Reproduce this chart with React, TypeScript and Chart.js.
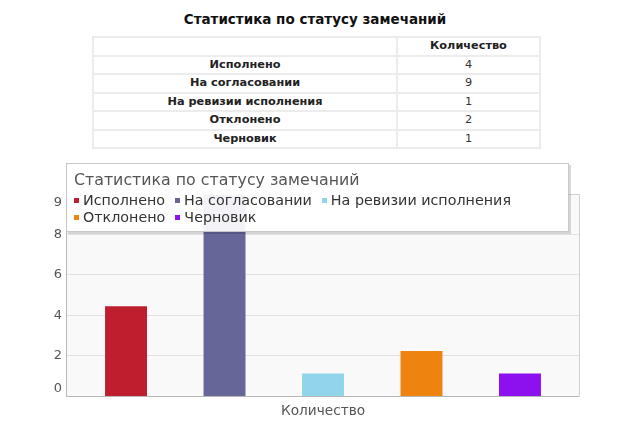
import React, { useEffect, useRef } from 'react';
import { Chart, registerables } from 'chart.js';

Chart.register(...registerables);

// ---- data ----
const chartTitle = 'Статистика по статусу замечаний';
const categories = ['Количество'];
const statuses = ['Исполнено', 'На согласовании', 'На ревизии исполнения', 'Отклонено', 'Черновик'];
const counts = [4, 9, 1, 2, 1];
const colors = ['#be1e2d', '#666699', '#92d5ea', '#ee8310', '#8d10ee'];
const yTickLabels = [0, 2, 4, 6, 8, 9];
const yMax = 9;
const gridMax = 10;

const plotFrame = {
  id: 'plotFrame',
  beforeDraw(chart: any) {
    const { ctx, chartArea: a } = chart;
    ctx.save();
    ctx.fillStyle = '#f9f9f9';
    ctx.fillRect(a.left, a.top, a.right - a.left, a.bottom - a.top);
    ctx.restore();
  },
  afterDatasetsDraw(chart: any) {
    const { ctx, chartArea: a } = chart;
    ctx.save();
    ctx.lineWidth = 1;
    ctx.strokeStyle = '#d0d0d0';
    ctx.beginPath();
    ctx.moveTo(a.left + 0.5, a.top + 0.5);
    ctx.lineTo(a.right - 0.5, a.top + 0.5);
    ctx.lineTo(a.right - 0.5, a.bottom - 0.5);
    ctx.stroke();
    ctx.strokeStyle = '#b8b8b8';
    ctx.beginPath();
    ctx.moveTo(a.left + 0.5, a.top + 0.5);
    ctx.lineTo(a.left + 0.5, a.bottom + 0.5);
    ctx.lineTo(a.right - 0.5, a.bottom + 0.5);
    ctx.stroke();
    ctx.restore();
  },
};

const chartFont = '"DejaVu Sans", Verdana, sans-serif';

export default function App() {
  const canvasRef = useRef<HTMLCanvasElement | null>(null);

  useEffect(() => {
    if (!canvasRef.current) return;
    const last = yTickLabels.length - 1;
    const chart = new Chart(canvasRef.current, {
      type: 'bar',
      data: {
        labels: categories,
        datasets: statuses.map((s, i) => ({
          label: s,
          data: [counts[i]],
          backgroundColor: colors[i],
          borderWidth: 0,
        })),
      },
      options: {
        animation: false,
        responsive: false,
        maintainAspectRatio: false,
        layout: { padding: { left: 0, right: 16, top: 34, bottom: 0 } },
        datasets: { bar: { categoryPercentage: 0.958, barPercentage: 0.426 } },
        plugins: {
          legend: { display: false },
          tooltip: { enabled: false },
          title: { display: false },
        },
        scales: {
          x: {
            grid: { display: false, drawTicks: false },
            border: { display: false },
            ticks: {
              padding: 7,
              color: '#555',
              font: { family: chartFont, size: 13.7 },
            },
            afterFit: (s: any) => {
              s.height = 34;
            },
          },
          y: {
            min: 0,
            max: yMax,
            border: { display: false },
            grid: {
              drawTicks: false,
              color: (ctx: any) =>
                ctx.index === 0 || ctx.index === last ? 'rgba(0,0,0,0)' : '#e2e2e2',
              lineWidth: 1,
            },
            afterBuildTicks: (s: any) => {
              s.ticks = yTickLabels.map((l, i) => {
                let v = (l * yMax) / gridMax;
                if (i === 0) v = 0.35;
                if (i === last) v += 0.5;
                return { value: v };
              });
            },
            ticks: {
              autoSkip: false,
              padding: 4,
              color: '#555',
              font: { family: chartFont, size: 13 },
              callback: (_v: any, i: number) => String(yTickLabels[i]),
            },
            afterFit: (s: any) => {
              s.width = 30;
            },
          },
        },
      },
      plugins: [plotFrame],
    });
    return () => chart.destroy();
  }, []);

  const cell: React.CSSProperties = {
    border: '2px solid #ececec',
    padding: 0,
    height: 16.5,
    lineHeight: '16.5px',
    textAlign: 'center',
  };

  return (
    <div style={{ position: 'relative', width: 604, height: 417 }}>
      <div
        style={{
          position: 'absolute',
          left: 107,
          width: 400,
          top: 3,
          textAlign: 'center',
          font: 'bold 13.5px "DejaVu Sans", sans-serif',
          lineHeight: '16px',
          color: '#111',
        }}
      >
        {chartTitle}
      </div>
      <table
        style={{
          position: 'absolute',
          left: 84,
          top: 28,
          width: 449,
          borderCollapse: 'collapse',
          font: '11.3px "DejaVu Sans", sans-serif',
          color: '#333',
        }}
      >
        <thead>
          <tr>
            <td style={{ ...cell, width: 302 }}></td>
            <th style={{ ...cell, fontWeight: 'bold', color: '#222' }}>{categories[0]}</th>
          </tr>
        </thead>
        <tbody>
          {statuses.map((s, i) => (
            <tr key={s}>
              <th style={{ ...cell, fontWeight: 'bold', color: '#222' }}>{s}</th>
              <td style={cell}>{counts[i]}</td>
            </tr>
          ))}
        </tbody>
      </table>
      <div style={{ position: 'absolute', left: 28, top: 152, width: 560, height: 270 }}>
        <canvas ref={canvasRef} width={560} height={270} style={{ display: 'block' }} />
      </div>
      <div
        style={{
          position: 'absolute',
          left: 58,
          top: 155,
          width: 501,
          height: 67,
          border: '1px solid #c8c8c8',
          boxShadow: '2px 2px 0 rgba(0,0,0,0.15)',
          background: 'rgba(255,255,255,0.92)',
          fontFamily: chartFont,
          boxSizing: 'content-box',
        }}
      >
        <div
          style={{
            position: 'absolute',
            left: 7,
            top: 6,
            fontSize: 15.8,
            lineHeight: '20px',
            color: '#555',
            whiteSpace: 'nowrap',
          }}
        >
          {chartTitle}
        </div>
        <div
          style={{
            position: 'absolute',
            left: 7,
            top: 28,
            width: 494,
            fontSize: 14.3,
            lineHeight: '17px',
            color: '#333',
          }}
        >
          {statuses.map((s, i) => (
            <span key={s} style={{ display: 'inline-block', marginRight: 10, whiteSpace: 'nowrap' }}>
              <span
                style={{
                  display: 'inline-block',
                  width: 5,
                  height: 5,
                  background: colors[i],
                  marginRight: 4,
                  verticalAlign: 'middle',
                  position: 'relative',
                  top: -1,
                }}
              />
              {s}
            </span>
          ))}
        </div>
      </div>
    </div>
  );
}
